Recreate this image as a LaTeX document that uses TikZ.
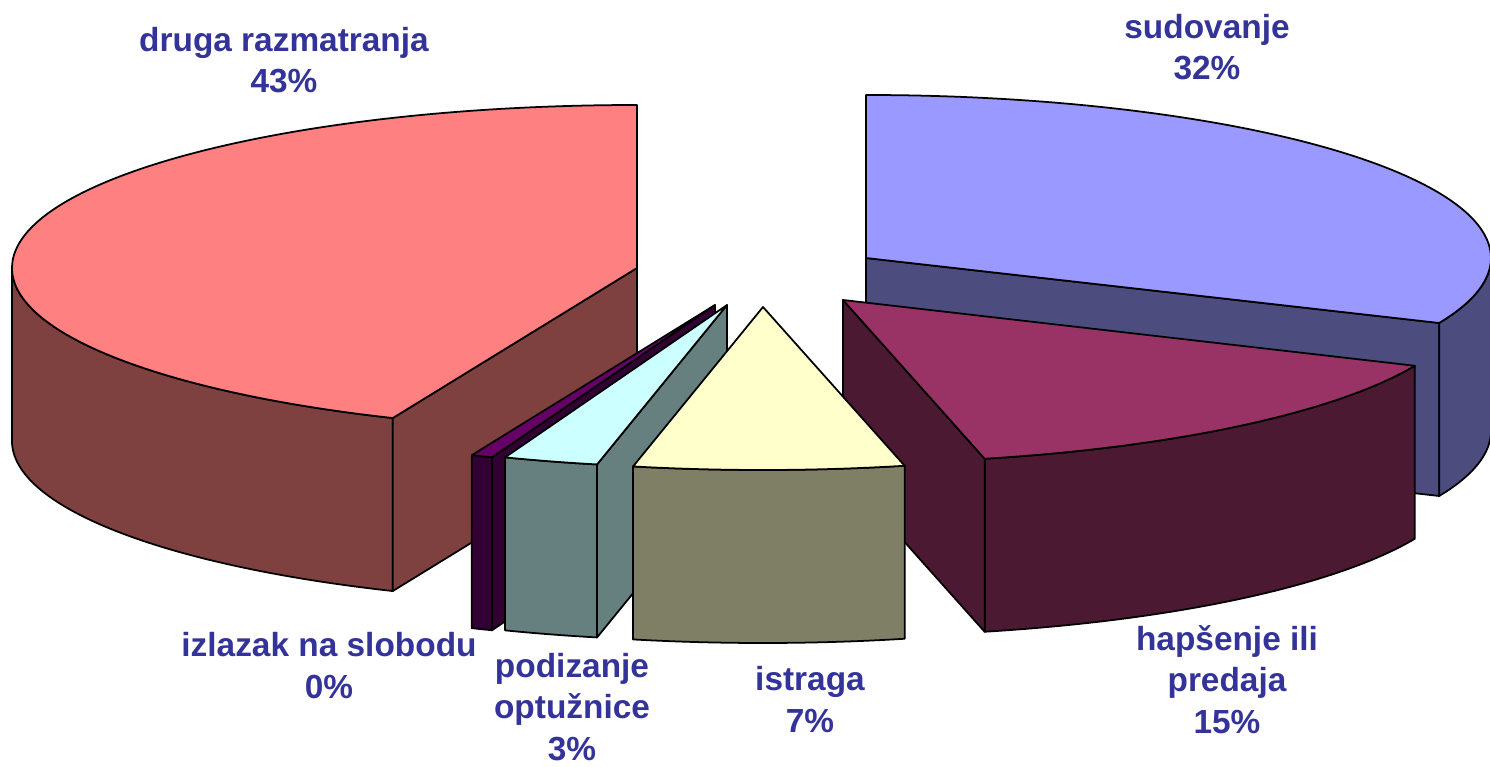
\documentclass[tikz,border=0pt]{standalone}
\usepackage{fontspec}
\setmainfont{Liberation Sans}

\definecolor{labelblue}{HTML}{333399}
\definecolor{sudTop}{HTML}{9999FF}
\definecolor{sudSide}{HTML}{4C4C7F}
\definecolor{drugaTop}{HTML}{FF8080}
\definecolor{drugaSide}{HTML}{7F4040}
\definecolor{hapsTop}{HTML}{993366}
\definecolor{hapsSide}{HTML}{4C1933}
\definecolor{izlTop}{HTML}{660066}
\definecolor{izlSide}{HTML}{330033}
\definecolor{podTop}{HTML}{CCFFFF}
\definecolor{podSide}{HTML}{667F7F}
\definecolor{istTop}{HTML}{FFFFCC}
\definecolor{istSide}{HTML}{7F7F66}

\begin{document}
\begin{tikzpicture}[x=0.01cm,y=0.01cm,line join=round,
  face/.style={draw=black,line width=0.5pt},
  lbl/.style={text=labelblue,font=\bfseries\fontsize{9.5}{11.7}\selectfont,align=center,inner sep=0pt,anchor=base}]

\def\rx{625}
\def\ry{163}
\def\h{173}
\useasboundingbox (0,0) rectangle (1490,-767);

\coordinate (sudC) at (866,-258);
\coordinate (drugaC) at (637,-268);
\coordinate (hapsC) at (843,-300);
\coordinate (izlC) at (715,-305);
\coordinate (podC) at (727,-305);
\coordinate (istC) at (763,-307);

% sudovanje
\draw[face,fill=sudSide] (sudC) ++(0,-\h) -- ++(-23.5:625 and 163) -- ++(0,\h) -- (sudC) -- cycle;
\draw[face,fill=sudSide] (sudC) ++(-23.5:625 and 163) arc[start angle=-23.5,end angle=0,x radius=\rx,y radius=\ry] -- ++(0,-\h) arc[start angle=0,end angle=-23.5,x radius=\rx,y radius=\ry] -- cycle;
\draw[face,fill=sudTop] (sudC) -- ++(0,\ry) arc[start angle=90,end angle=-23.5,x radius=\rx,y radius=\ry] -- cycle;

% druga razmatranja
\draw[face,fill=drugaSide] (drugaC) ++(180:625 and 163) arc[start angle=180,end angle=247,x radius=\rx,y radius=\ry] -- ++(0,-\h) arc[start angle=247,end angle=180,x radius=\rx,y radius=\ry] -- cycle;
\draw[face,fill=drugaSide] (drugaC) ++(0,-\h) -- ++(247:625 and 163) -- ++(0,\h) -- (drugaC) -- cycle;
\draw[face,fill=drugaTop] (drugaC) -- ++(0,\ry) arc[start angle=90,end angle=247,x radius=\rx,y radius=\ry] -- cycle;

% hapsenje ili predaja
\draw[face,fill=hapsSide] (hapsC) ++(-23.8:625 and 163) arc[start angle=-23.8,end angle=-76.9,x radius=\rx,y radius=\ry] -- ++(0,-\h) arc[start angle=-76.9,end angle=-23.8,x radius=\rx,y radius=\ry] -- cycle;
\draw[face,fill=hapsSide] (hapsC) ++(0,-\h) -- ++(-76.9:625 and 163) -- ++(0,\h) -- (hapsC) -- cycle;
\draw[face,fill=hapsTop] (hapsC) -- ++(-23.8:625 and 163) arc[start angle=-23.8,end angle=-76.9,x radius=\rx,y radius=\ry] -- cycle;

% izlazak na slobodu
\draw[face,fill=izlSide] (izlC) ++(0,-\h) -- ++(-110.9:625 and 163) -- ++(0,\h) -- (izlC) -- cycle;
\draw[face,fill=izlSide] (izlC) ++(-112.9:625 and 163) arc[start angle=-112.9,end angle=-110.9,x radius=\rx,y radius=\ry] -- ++(0,-\h) arc[start angle=-110.9,end angle=-112.9,x radius=\rx,y radius=\ry] -- cycle;
\draw[face,fill=izlTop] (izlC) -- ++(-112.9:625 and 163) arc[start angle=-112.9,end angle=-110.9,x radius=\rx,y radius=\ry] -- cycle;

% podizanje optuznice
\draw[face,fill=podSide] (podC) ++(0,-\h) -- ++(-102:625 and 163) -- ++(0,\h) -- (podC) -- cycle;
\draw[face,fill=podSide] (podC) ++(-110.8:625 and 163) arc[start angle=-110.8,end angle=-102,x radius=\rx,y radius=\ry] -- ++(0,-\h) arc[start angle=-102,end angle=-110.8,x radius=\rx,y radius=\ry] -- cycle;
\draw[face,fill=podTop] (podC) -- ++(-110.8:625 and 163) arc[start angle=-110.8,end angle=-102,x radius=\rx,y radius=\ry] -- cycle;

% istraga
\draw[face,fill=istSide] (istC) ++(-102:625 and 163) arc[start angle=-102,end angle=-76.9,x radius=\rx,y radius=\ry] -- ++(0,-\h) arc[start angle=-76.9,end angle=-102,x radius=\rx,y radius=\ry] -- cycle;
\draw[face,fill=istTop] (istC) -- ++(-102:625 and 163) arc[start angle=-102,end angle=-76.9,x radius=\rx,y radius=\ry] -- cycle;

% labels
\node[lbl] (druga) at (284,-93) {druga razmatranja\\43\%};
\node[lbl] (sud) at (1207,-80) {sudovanje\\32\%};
\node[lbl] (haps) at (1227,-733) {hapšenje ili\\predaja\\15\%};
\node[lbl] (ist) at (810,-732) {istraga\\7\%};
\node[lbl] (pod) at (572,-760) {podizanje\\optužnice\\3\%};
\node[lbl] (izl) at (329,-698) {izlazak na slobodu\\0\%};

\end{tikzpicture}
\end{document}
